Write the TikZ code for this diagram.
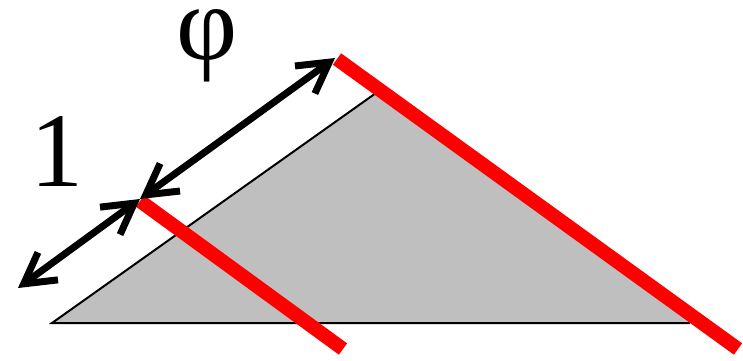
\documentclass[tikz,border=0pt]{standalone}
\usepackage{fontspec}
\setmainfont{Liberation Serif}
\usetikzlibrary{arrows.meta}
\definecolor{trigray}{gray}{0.75}
\tikzset{
  cut/.style={red,line width=14pt},
  len/.style={line width=7pt,line cap=round,
    {Straight Barb[length=30pt,width=34pt]}-{Straight Barb[length=30pt,width=34pt]}},
  big/.style={font=\fontsize{106}{106}\selectfont,inner sep=0pt}
}

\begin{document}
\begin{tikzpicture}[x=1pt,y=-1pt]
        \useasboundingbox (0,0) rectangle (743,360);
        % triangle
        \coordinate (left) at (52,323);
        \coordinate (right) at (690,323);
        \coordinate (top) at (376,93);
        \fill[trigray] (left) -- (right) -- (top) -- cycle;
        \draw[line width=2pt] (right) -- (left) -- (top);

        % red cuts
        \coordinate (c1) at (140,201);
        \coordinate (c2) at (343,349);
        \coordinate (d1) at (337,59);
        \coordinate (d2) at (738,349);
        \draw[cut] (c1) -- (c2);
        \draw[cut] (d1) -- (d2);

        % lengths
        \coordinate (e) at (18,288);
        \coordinate (m) at (140,199);
        \coordinate (f) at (335,58);
        \draw[len] (e) -- (m);
        \draw[len] (m) -- (f);
        \node[big] (one) at (57,152) {1};
        \node[big] (phi) at (207,46) {φ};
    \end{tikzpicture}
\end{document}
